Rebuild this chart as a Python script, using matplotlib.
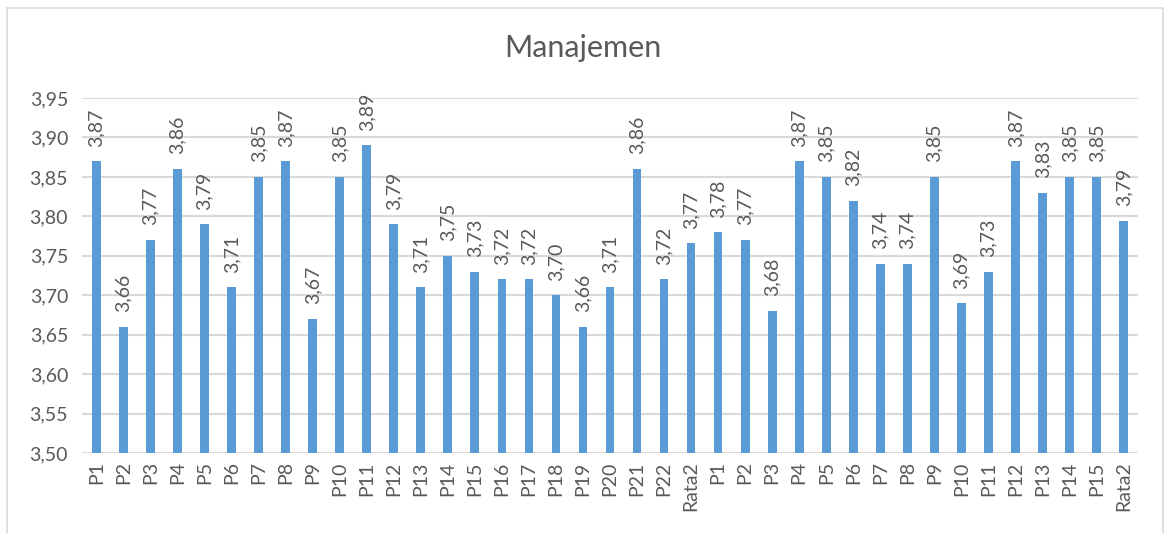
import matplotlib
matplotlib.use("Agg")
import matplotlib.pyplot as plt
from matplotlib.patches import Rectangle

categories = ["P1", "P2", "P3", "P4", "P5", "P6", "P7", "P8", "P9", "P10",
              "P11", "P12", "P13", "P14", "P15", "P16", "P17", "P18", "P19", "P20",
              "P21", "P22", "Rata2",
              "P1", "P2", "P3", "P4", "P5", "P6", "P7", "P8", "P9", "P10",
              "P11", "P12", "P13", "P14", "P15", "Rata2"]
values = [3.87, 3.66, 3.77, 3.86, 3.79, 3.71, 3.85, 3.87, 3.67, 3.85,
          3.89, 3.79, 3.71, 3.75, 3.73, 3.72, 3.72, 3.70, 3.66, 3.71,
          3.86, 3.72, 3.766,
          3.78, 3.77, 3.68, 3.87, 3.85, 3.82, 3.74, 3.74, 3.85, 3.69,
          3.73, 3.87, 3.83, 3.85, 3.85, 3.794]
yticks = [3.50, 3.55, 3.60, 3.65, 3.70, 3.75, 3.80, 3.85, 3.90, 3.95]

plt.rcParams['font.family'] = ['Lato', 'DejaVu Sans']
text_color = "#595959"
grid_color = "#d9d9d9"
bar_color = "#5B9BD5"

fig = plt.figure(figsize=(11.66, 5.33), dpi=100)
ax = fig.add_axes([82/1166, 1-453/533, (1138-82)/1166, (453-98)/533])

x = list(range(len(categories)))
ax.bar(x, [v - 3.5 for v in values], bottom=3.5, width=0.32, color=bar_color, zorder=3)

for xi, v in zip(x, values):
    ax.annotate(f"{v:.2f}".replace(".", ","), (xi, v), xytext=(0, 10.5),
                textcoords="offset points", rotation=90, ha="center", va="bottom",
                fontsize=14, color=text_color)

ax.set_xlim(-0.53, len(categories) - 0.47)
ax.set_ylim(3.5, 3.95)
ax.set_yticks(yticks)
ax.set_yticklabels([f"{t:.2f}".replace(".", ",") for t in yticks], fontsize=14, color=text_color)
ax.set_xticks(x)
ax.set_xticklabels(categories, rotation=90, fontsize=14, color=text_color)
ax.tick_params(axis="both", length=0)
ax.tick_params(axis="y", pad=10)
ax.tick_params(axis="x", pad=6)
ax.grid(axis="y", color=grid_color, linewidth=1.5, zorder=0)
for s in ax.spines.values():
    s.set_visible(False)

fig.text(0.5, 1-48/533, "Manajemen", ha="center", va="center", fontsize=22, color=text_color)

fig.add_artist(Rectangle((7/1166, -0.02), (1163-7)/1166, (533-8)/533 + 0.02,
                         transform=fig.transFigure, fill=False, edgecolor=grid_color, linewidth=1.2))

fig.savefig("out.png", dpi=100)
